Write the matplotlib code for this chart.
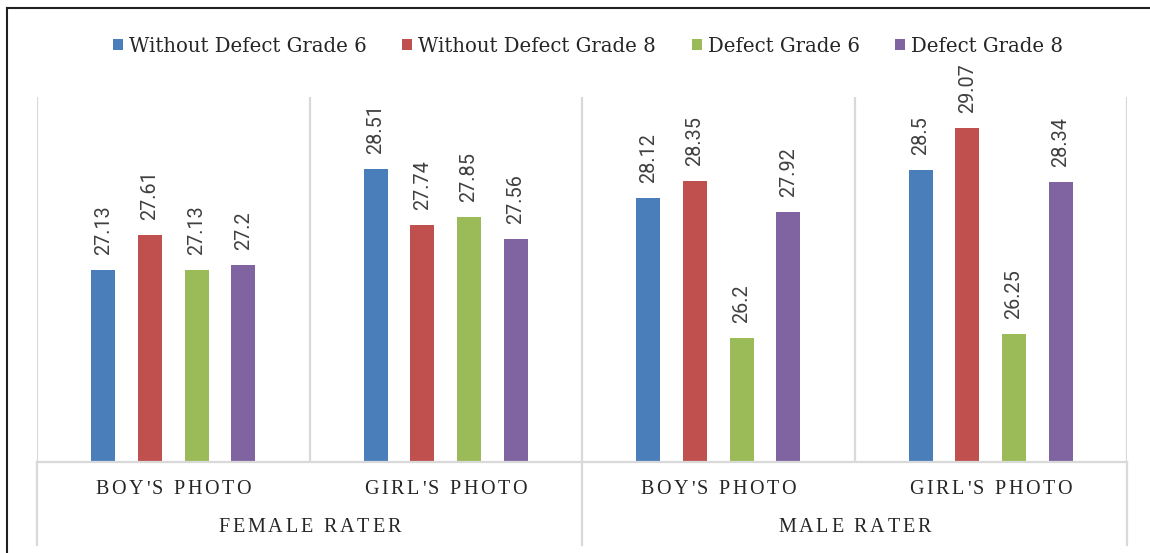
import matplotlib
matplotlib.use("Agg")
import matplotlib.pyplot as plt
from matplotlib.patches import Patch
from matplotlib.lines import Line2D
import numpy as np

# ---- data ----
photo_labels = ["BOY'S PHOTO", "GIRL'S PHOTO", "BOY'S PHOTO", "GIRL'S PHOTO"]
rater_labels = ["FEMALE RATER", "MALE RATER"]
series_names = ["Without Defect Grade 6", "Without Defect Grade 8", "Defect Grade 6", "Defect Grade 8"]
without_defect_g6 = [27.13, 28.51, 28.12, 28.50]
without_defect_g8 = [27.61, 27.74, 28.35, 29.07]
defect_g6 = [27.13, 27.85, 26.20, 26.25]
defect_g8 = [27.20, 27.56, 27.92, 28.34]
label_text = [["27.13", "28.51", "28.12", "28.5"],
              ["27.61", "27.74", "28.35", "29.07"],
              ["27.13", "27.85", "26.2", "26.25"],
              ["27.2", "27.56", "27.92", "28.34"]]

colors = ["#4A7EBB", "#C0504D", "#9BBB59", "#8064A2"]
series = [without_defect_g6, without_defect_g8, defect_g6, defect_g8]

W, H = 1150, 553
DPI = 100
fig = plt.figure(figsize=(W / DPI, H / DPI), dpi=DPI)
fig.patch.set_facecolor("white")

ax_l, ax_r, ax_t, ax_b = 37, 1127, 97, 462
ax = fig.add_axes([ax_l / W, 1 - ax_b / H, (ax_r - ax_l) / W, (ax_b - ax_t) / H])

x = np.arange(len(photo_labels))
step = 0.171
bw = 0.088
offsets = (np.arange(4) - 1.5) * step
for i, (vals, c) in enumerate(zip(series, colors)):
    ax.bar(x + offsets[i], vals, width=bw, color=c, bottom=0, zorder=3)
    for xi, v, t in zip(x + offsets[i], vals, label_text[i]):
        ax.annotate(t, (xi, v), xytext=(0, 15), textcoords="offset pixels",
                    rotation=90, ha="center", va="bottom", fontsize=14.3,
                    family="Roboto", color="#404040")

ax.set_ylim(24.5, 29.5)
ax.set_xlim(-0.5, 3.5)
ax.set_xticks([])
ax.set_yticks([])
for s in ax.spines.values():
    s.set_visible(False)
grid_c = "#D9D9D9"
for b in [-0.5, 0.5, 1.5, 2.5, 3.5]:
    ax.axvline(b, color=grid_c, lw=1.6, zorder=1)
ax.axhline(24.5, color=grid_c, lw=1.6, zorder=4, clip_on=False)

# lines below axis for group (rater) separators
for b in [-0.5, 1.5, 3.5]:
    px = ax.transData.transform((b, 24.5))[0]
    fig.add_artist(Line2D([px / W, px / W], [1 - ax_b / H, 1 - 545 / H], color=grid_c, lw=1.6))

# letter-spaced text helper
renderer = fig.canvas.get_renderer()

def spaced_text(cx_px, cy_px, s, fs, track, family="Liberation Serif", color="#262626"):
    widths = []
    for ch in s:
        if ch == " ":
            widths.append(fs * DPI / 72 * 0.25)
        else:
            t = fig.text(0, 0, ch, fontsize=fs, family=family)
            widths.append(t.get_window_extent(renderer).width)
            t.remove()
    total = sum(widths) + track * (len(s) - 1)
    pos = cx_px - total / 2
    for ch, w in zip(s, widths):
        if ch != " ":
            fig.text(pos / W, 1 - cy_px / H, ch, fontsize=fs, family=family,
                     ha="left", va="center", color=color)
        pos += w + track

for xi, lab in zip(x, photo_labels):
    cx = ax.transData.transform((xi, 0))[0]
    spaced_text(cx, 490, lab, 14.5, 2.6)
for gi, lab in enumerate(rater_labels):
    cx = ax.transData.transform((gi * 2 + 0.5, 0))[0]
    spaced_text(cx, 528, lab, 14.5, 2.8)

# legend
handles = [Patch(facecolor=c, edgecolor="none") for c in colors]
fig.legend(handles, series_names, loc="center", bbox_to_anchor=(588 / W, 1 - 46 / H),
           ncol=4, frameon=False, prop={"family": "DejaVu Serif", "size": 14.2},
           handlelength=0.52, handleheight=0.52, handletextpad=0.3, columnspacing=1.8,
           labelcolor="#262626")

# outer frame (left and top edges)
fig.add_artist(Line2D([7 / W, 7 / W], [0, 1 - 8 / H], color="#202020", lw=1.5))
fig.add_artist(Line2D([7 / W, 1], [1 - 8 / H, 1 - 8 / H], color="#202020", lw=1.5))

fig.savefig("out.png", dpi=DPI, facecolor="white")
